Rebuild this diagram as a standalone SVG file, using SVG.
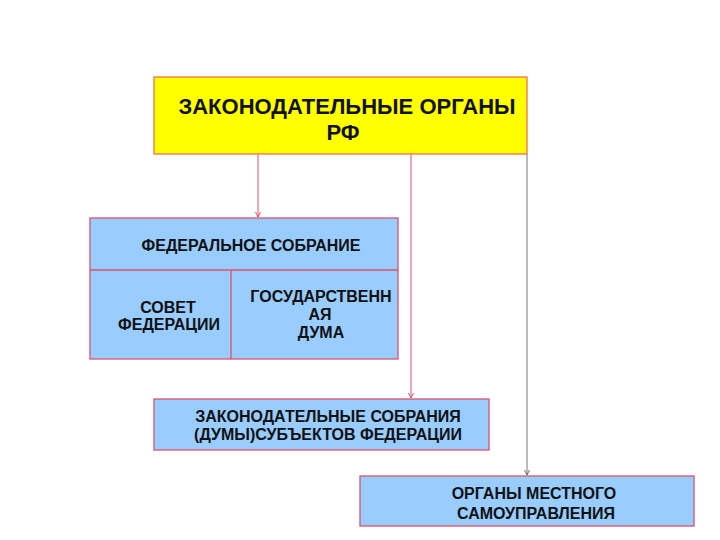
<svg xmlns="http://www.w3.org/2000/svg" width="720" height="540" viewBox="0 0 720 540">
<style>
text{font-family:"Liberation Sans",Arial,sans-serif;font-weight:bold;fill:#111;text-anchor:middle}
.b{fill:#99ccff;stroke:#e0506a;stroke-width:1.3}
.t{font-size:16px}
.h{font-size:22px}
</style>
<defs>
<marker id="ar" markerWidth="6" markerHeight="6" refX="5" refY="3" orient="auto" markerUnits="userSpaceOnUse"><path d="M0,0.5 L5,3 L0,5.5" fill="none" stroke="#e0506a" stroke-width="1"/></marker>
<marker id="ag" markerWidth="6" markerHeight="6" refX="5" refY="3" orient="auto" markerUnits="userSpaceOnUse"><path d="M0,0.5 L5,3 L0,5.5" fill="none" stroke="#666" stroke-width="1"/></marker>
</defs>
<rect width="720" height="540" fill="#fff"/>
<g id="connectors">
<line x1="258" y1="154" x2="258" y2="217" stroke="#e0506a" stroke-width="1" marker-end="url(#ar)"/>
<line x1="411" y1="154" x2="411" y2="398" stroke="#e0506a" stroke-width="1" marker-end="url(#ar)"/>
<line x1="527" y1="154" x2="527" y2="475" stroke="#777" stroke-width="1" marker-end="url(#ag)"/>
</g>
<g id="top">
<rect x="154" y="77" width="373" height="77" fill="#ffff00" stroke="#f07050" stroke-width="1.3"/>
<text class="h" x="347" y="114">ЗАКОНОДАТЕЛЬНЫЕ ОРГАНЫ</text>
<text class="h" x="343" y="140">РФ</text>
</g>
<g id="federal">
<rect class="b" x="90" y="218" width="308" height="141"/>
<line x1="90" y1="270" x2="398" y2="270" stroke="#e0506a" stroke-width="1.3"/>
<line x1="231" y1="270" x2="231" y2="359" stroke="#e0506a" stroke-width="1.3"/>
<text class="t" x="251" y="251">ФЕДЕРАЛЬНОЕ СОБРАНИЕ</text>
</g>
<g id="sovet">
<text class="t" x="168" y="313">СОВЕТ</text>
<text class="t" x="169" y="330">ФЕДЕРАЦИИ</text>
</g>
<g id="duma">
<text class="t" x="321" y="302">ГОСУДАРСТВЕНН</text>
<text class="t" x="320" y="320">АЯ</text>
<text class="t" x="321" y="338">ДУМА</text>
</g>
<g id="subjects">
<rect class="b" x="154" y="399" width="335" height="51"/>
<text class="t" x="328" y="422">ЗАКОНОДАТЕЛЬНЫЕ СОБРАНИЯ</text>
<text class="t" x="328" y="440">(ДУМЫ)СУБЪЕКТОВ ФЕДЕРАЦИИ</text>
</g>
<g id="local">
<rect class="b" x="360" y="476" width="334" height="50"/>
<text class="t" x="534" y="499">ОРГАНЫ МЕСТНОГО</text>
<text class="t" x="536" y="519">САМОУПРАВЛЕНИЯ</text>
</g>
</svg>
